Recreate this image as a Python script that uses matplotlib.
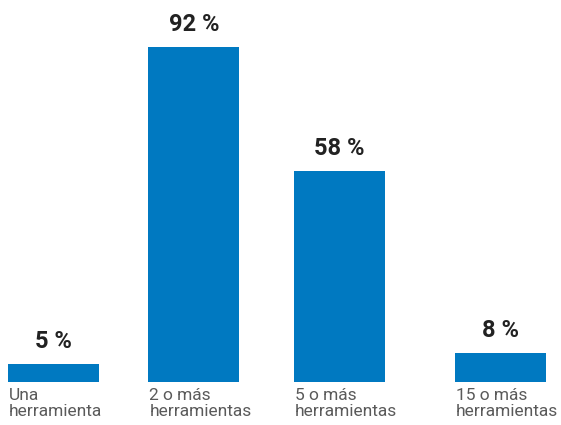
import matplotlib
matplotlib.use('Agg')
import matplotlib.pyplot as plt
import matplotlib.transforms as mtransforms

categories = ['Una\nherramienta', '2 o más\nherramientas', '5 o más\nherramientas', '15 o más\nherramientas']
values = [5, 92, 58, 8]
value_labels = ['5 %', '92 %', '58 %', '8 %']

# bar centres in pixel units (axes spans the figure width)
xpos = [53.5, 194, 339.5, 500.5]
bar_w = 91
blue = '#0079c1'

fig = plt.figure(figsize=(5.61, 4.25), dpi=100)
ax = fig.add_axes([0, 43/425, 1, 364/425])
ax.set_xlim(0, 561)
ax.set_ylim(0, 100)
ax.axis('off')

ax.bar(xpos, values, width=bar_w, color=blue)

for x, v, lab in zip(xpos, values, value_labels):
    ax.annotate(lab, (x, v), xytext=(0, 8), textcoords='offset points',
                ha='center', va='bottom', fontsize=17, fontweight='bold',
                family='Roboto', color='#222222')

trans = mtransforms.blended_transform_factory(ax.transData, ax.transAxes)
for x, cat in zip(xpos, categories):
    ax.annotate(cat, (x - bar_w/2 + 1, 0), xycoords=trans, xytext=(0, -4),
                textcoords='offset points', ha='left', va='top', fontsize=12.5,
                family='Roboto', color='#5a5a5a', linespacing=1.15)

fig.savefig('out.png', dpi=100)
